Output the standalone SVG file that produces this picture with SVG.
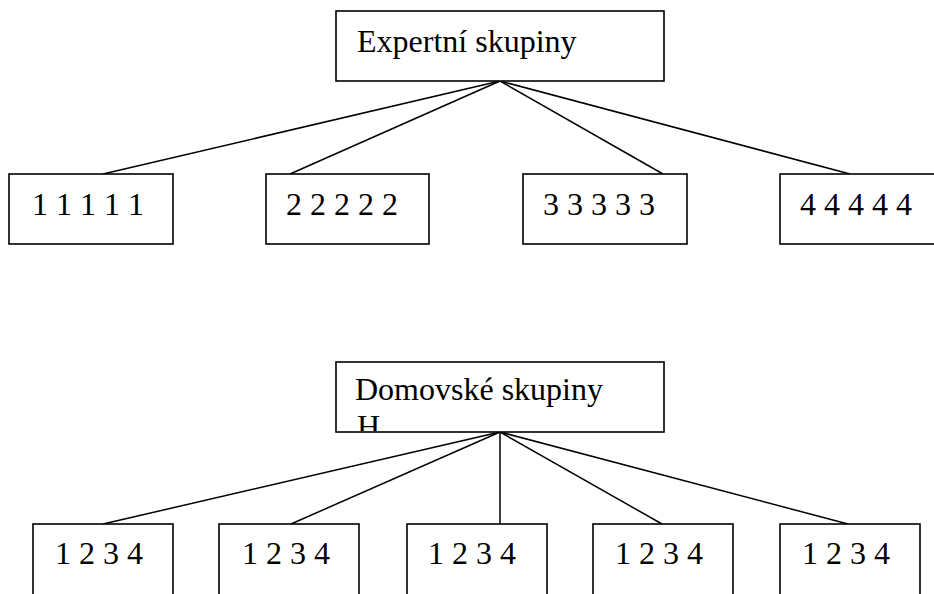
<svg xmlns="http://www.w3.org/2000/svg" width="934" height="594" viewBox="0 0 934 594">
<style>
.box{fill:#fff;stroke:#000;stroke-width:1.6}
.ln{stroke:#000;stroke-width:1.5;fill:none}
.t{font-family:'Times New Roman','DejaVu Serif',serif;font-size:32px;fill:#000}
</style>
<defs>
<clipPath id="clipDom"><rect x="337" y="363" width="326" height="68"/></clipPath>
</defs>
<rect width="934" height="594" fill="#fff"/>
<g id="connectors">
<line class="ln" x1="500" y1="81" x2="103" y2="174"/>
<line class="ln" x1="500" y1="81" x2="290" y2="174"/>
<line class="ln" x1="500" y1="81" x2="663" y2="174"/>
<line class="ln" x1="500" y1="81" x2="850" y2="174"/>
<line class="ln" x1="500" y1="432" x2="103" y2="524"/>
<line class="ln" x1="500" y1="432" x2="291" y2="524"/>
<line class="ln" x1="500" y1="432" x2="500" y2="524"/>
<line class="ln" x1="500" y1="432" x2="662" y2="524"/>
<line class="ln" x1="500" y1="432" x2="848" y2="524"/>
</g>
<g id="expert">
<rect class="box" x="336" y="11" width="328" height="70"/>
<text class="t" x="357" y="52">Expertní skupiny</text>
</g>
<g id="e1"><rect class="box" x="9" y="174" width="164" height="70"/><text class="t" x="32" y="215">1 1 1 1 1</text></g>
<g id="e2"><rect class="box" x="266" y="174" width="163" height="70"/><text class="t" x="286" y="215">2 2 2 2 2</text></g>
<g id="e3"><rect class="box" x="523" y="174" width="164" height="70"/><text class="t" x="543" y="215">3 3 3 3 3</text></g>
<g id="e4"><rect class="box" x="780" y="174" width="164" height="70"/><text class="t" x="800" y="215">4 4 4 4 4</text></g>
<g id="domov">
<rect class="box" x="336" y="362" width="328" height="70"/>
<g clip-path="url(#clipDom)">
<text class="t" x="355" y="400">Domovské skupiny</text>
<text class="t" x="357" y="437">H</text>
</g>
</g>
<g id="d1"><rect class="box" x="33" y="524" width="140" height="80"/><text class="t" x="55" y="564">1 2 3 4</text></g>
<g id="d2"><rect class="box" x="219" y="524" width="140" height="80"/><text class="t" x="242" y="564">1 2 3 4</text></g>
<g id="d3"><rect class="box" x="407" y="524" width="140" height="80"/><text class="t" x="428" y="564">1 2 3 4</text></g>
<g id="d4"><rect class="box" x="593" y="524" width="140" height="80"/><text class="t" x="615" y="564">1 2 3 4</text></g>
<g id="d5"><rect class="box" x="780" y="524" width="140" height="80"/><text class="t" x="802" y="564">1 2 3 4</text></g>
</svg>
